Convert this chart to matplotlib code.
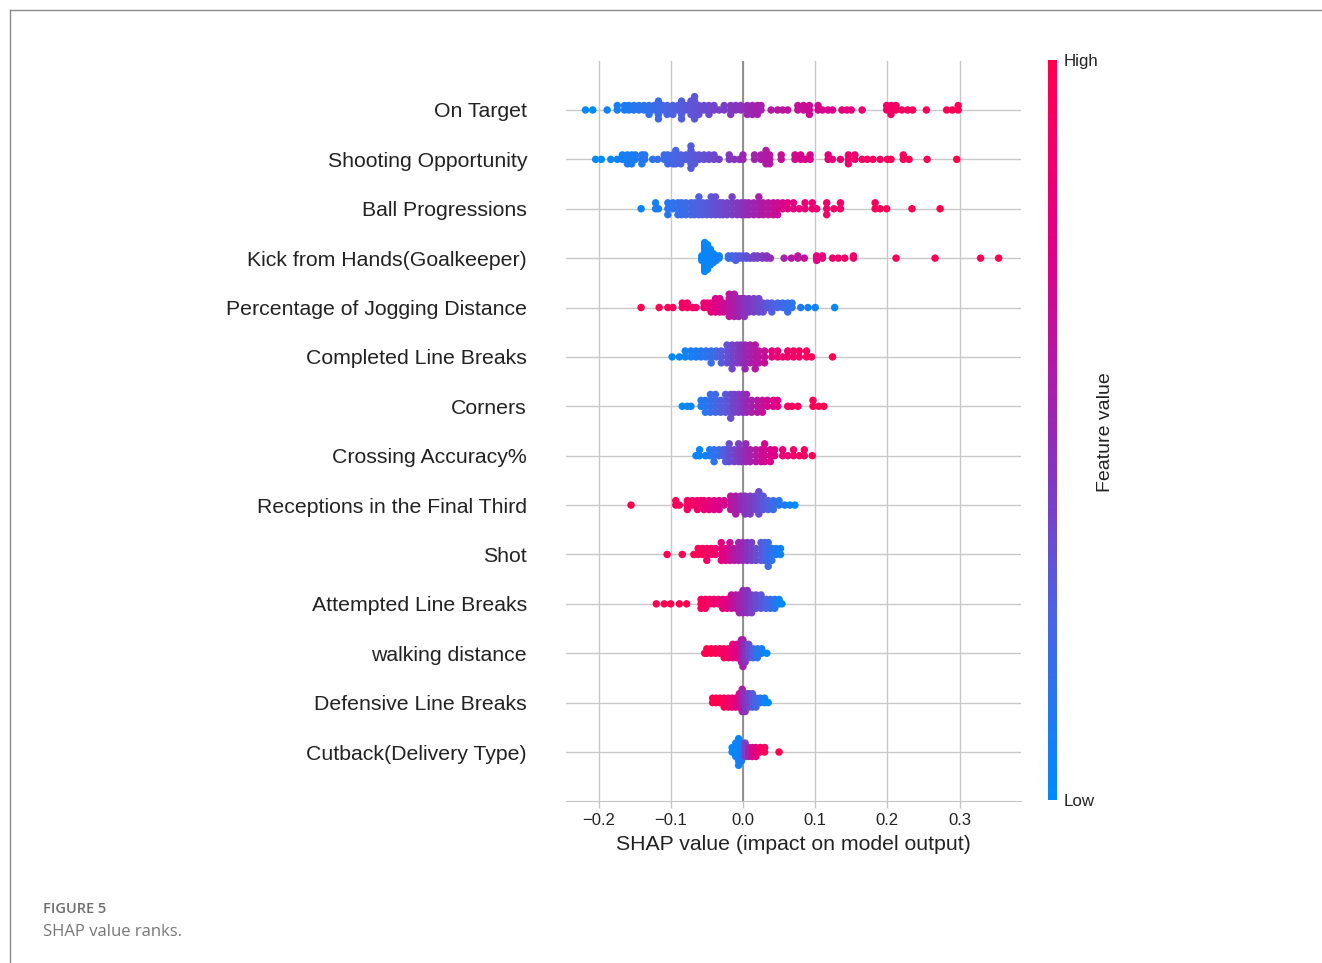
import numpy as np
import matplotlib.pyplot as plt
from matplotlib.colors import LinearSegmentedColormap, Normalize
from matplotlib.cm import ScalarMappable
from matplotlib.lines import Line2D

plt.rcParams['font.family'] = ['Liberation Sans', 'DejaVu Sans']

# feature names, top to bottom
features = ['On Target', 'Shooting Opportunity', 'Ball Progressions',
            'Kick from Hands(Goalkeeper)', 'Percentage of Jogging Distance',
            'Completed Line Breaks', 'Corners', 'Crossing Accuracy%',
            'Receptions in the Final Third', 'Shot', 'Attempted Line Breaks',
            'walking distance', 'Defensive Line Breaks', 'Cutback(Delivery Type)']

# points: (shap value x1000, number of dots, feature value 0-1)
on_target = [(-218,1,0.0),(-208,1,0.0),(-188,1,0.05),(-174,2,0.08),(-164,2,0.1),(-158,2,0.1),
             (-151,2,0.12),(-144,2,0.13),(-137,2,0.15),(-130,3,0.16),(-123,2,0.18),(-117,5,0.2),
             (-111,2,0.22),(-105,3,0.24),(-97,3,0.26),(-90,2,0.27),(-85,5,0.28),(-79,2,0.3),
             (-72,4,0.31),(-67,6,0.32),(-61,3,0.33),(-54,2,0.35),(-47,3,0.36),(-40,2,0.38),
             (-33,1,0.4),(-26,2,0.41),(-17,3,0.43),(-10,2,0.45),(-3,2,0.46),(6,3,0.5),(13,3,0.52),
             (20,3,0.54),(25,2,0.55),(39,1,0.6),(48,1,0.62),(55,1,0.62),(62,1,0.63),(76,2,0.65),
             (84,2,0.66),(92,3,0.68),(104,2,0.7),(110,1,0.72),(118,1,0.72),(124,1,0.74),
             (137,1,0.8),(144,1,0.8),(150,1,0.82),(165,1,0.85),(199,2,0.9),(205,3,0.9),
             (212,2,0.92),(220,1,0.92),(228,1,0.93),(235,1,0.93),(254,1,0.95),(282,1,0.97),
             (290,1,0.97),(298,2,0.98)]
shooting = [(-204,1,0.0),(-196,1,0.0),(-183,1,0.03),(-174,1,0.05),(-167,2,0.06),(-160,3,0.08),
            (-154,3,0.1),(-149,2,0.1),(-140,3,0.12),(-136,2,0.13),(-125,1,0.15),(-118,1,0.17),
            (-109,2,0.2),(-104,3,0.21),(-97,3,0.23),(-93,4,0.24),(-86,3,0.26),(-79,2,0.27),
            (-72,6,0.28),(-67,3,0.3),(-61,2,0.31),(-54,2,0.33),(-47,2,0.35),(-40,2,0.37),
            (-33,1,0.39),(-19,2,0.43),(-12,1,0.45),(-5,1,0.47),(0,2,0.5),(16,2,0.54),(25,2,0.56),
            (32,4,0.58),(37,3,0.6),(53,2,0.65),(72,2,0.7),(80,2,0.71),(86,1,0.72),(93,2,0.73),
            (118,2,0.8),(124,1,0.8),(135,1,0.83),(146,3,0.86),(155,2,0.88),(165,1,0.9),
            (172,1,0.9),(180,1,0.92),(190,1,0.93),(200,1,0.94),(205,1,0.95),(222,2,0.96),
            (230,1,0.97),(255,1,0.98),(296,1,1.0)]
ball_prog = [(-141,1,0.05),(-121,2,0.08),(-117,1,0.09),(-104,3,0.13),(-97,2,0.15),(-90,3,0.17),
             (-85,3,0.18),(-79,3,0.2),(-72,3,0.22),(-67,3,0.24),(-61,4,0.26),(-56,3,0.27),
             (-50,3,0.29),(-44,4,0.31),(-38,4,0.33),(-32,3,0.35),(-28,3,0.36),(-22,3,0.38),
             (-15,4,0.4),(-8,3,0.43),(-2,3,0.45),(3,3,0.47),(8,3,0.5),(15,3,0.53),(22,4,0.56),
             (28,3,0.59),(35,3,0.62),(42,3,0.65),(48,3,0.68),(55,2,0.72),(62,2,0.75),(70,2,0.78),
             (78,1,0.8),(86,2,0.82),(96,2,0.85),(102,1,0.86),(116,3,0.88),(126,1,0.9),
             (135,2,0.9),(183,2,0.95),(190,1,0.95),(199,1,0.96),(234,1,0.98),(273,1,1.0)]
kick = [(-57,3,0.02),(-53,14,0.02),(-49,12,0.03),(-45,8,0.03),(-41,5,0.04),(-37,3,0.05),
        (-33,2,0.06),(-20,2,0.2),(-15,2,0.22),(-10,3,0.25),(-5,2,0.28),(0,2,0.3),(5,2,0.32),
        (10,1,0.35),(15,2,0.38),(20,2,0.4),(27,2,0.42),(33,2,0.45),(38,1,0.48),(57,1,0.55),
        (67,1,0.58),(76,2,0.62),(85,1,0.65),(102,3,0.78),(110,2,0.8),(124,1,0.85),
        (132,1,0.86),(141,1,0.88),(153,2,0.9),(212,1,0.95),(266,1,0.97),(329,1,0.98),
        (354,1,1.0)]
jogging = [(-141,1,1.0),(-116,1,0.98),(-104,1,0.96),(-97,1,0.95),(-84,2,0.92),(-77,2,0.9),
           (-70,1,0.9),(-65,1,0.88),(-54,2,0.85),(-49,2,0.84),(-44,3,0.8),(-38,4,0.76),
           (-32,4,0.72),(-27,3,0.68),(-19,6,0.62),(-12,6,0.57),(-6,5,0.52),(-2,4,0.5),(2,5,0.46),
           (8,4,0.43),(15,4,0.4),(22,4,0.37),(28,3,0.34),(34,2,0.3),(40,3,0.27),(48,2,0.24),
           (55,2,0.21),(62,3,0.18),(68,2,0.15),(80,1,0.1),(90,1,0.07),(100,1,0.05),(127,1,0.0)]
completed = [(-98,1,0.0),(-88,1,0.03),(-80,2,0.05),(-72,2,0.08),(-65,2,0.1),(-58,2,0.12),
             (-51,2,0.15),(-44,3,0.18),(-37,2,0.22),(-30,3,0.28),(-22,4,0.33),(-15,5,0.38),
             (-8,4,0.42),(-3,4,0.45),(3,5,0.5),(10,4,0.55),(17,5,0.6),(22,3,0.62),(30,3,0.66),
             (40,2,0.8),(48,2,0.84),(55,1,0.86),(62,2,0.88),(70,2,0.9),(78,2,0.92),(88,2,0.94),
             (95,1,0.96),(124,1,1.0)]
corners = [(-84,1,0.0),(-77,1,0.02),(-72,1,0.04),(-58,2,0.1),(-52,3,0.13),(-45,4,0.18),
           (-38,4,0.22),(-31,3,0.27),(-24,4,0.3),(-17,5,0.35),(-12,4,0.38),(-6,4,0.42),
           (0,4,0.46),(5,4,0.5),(12,3,0.55),(20,3,0.6),(27,3,0.65),(34,2,0.7),(42,2,0.73),
           (48,2,0.76),(62,1,0.9),(68,1,0.92),(76,1,0.93),(97,2,0.96),(105,1,0.98),(112,1,1.0)]
crossing = [(-65,1,0.02),(-60,2,0.03),(-52,1,0.05),(-46,2,0.1),(-40,3,0.15),(-33,2,0.2),
            (-27,2,0.25),(-24,3,0.28),(-19,4,0.34),(-12,3,0.38),(-6,4,0.42),(-2,3,0.45),
            (4,4,0.5),(10,3,0.55),(18,3,0.6),(25,3,0.65),(30,4,0.7),(38,3,0.73),(44,2,0.76),
            (55,2,0.82),(62,1,0.85),(70,2,0.88),(78,1,0.9),(85,2,0.93),(96,1,0.98)]
receptions = [(-155,1,1.0),(-93,2,0.96),(-88,1,0.95),(-77,3,0.92),(-70,2,0.9),(-63,3,0.88),
              (-58,2,0.86),(-54,3,0.83),(-47,3,0.8),(-40,3,0.77),(-33,3,0.74),(-26,2,0.7),
              (-17,4,0.62),(-10,5,0.56),(-3,4,0.5),(3,5,0.45),(10,5,0.42),(17,4,0.38),
              (22,6,0.35),(28,4,0.3),(35,3,0.25),(42,3,0.2),(50,2,0.13),(58,1,0.1),(65,1,0.05),
              (72,1,0.0)]
shot = [(-105,1,1.0),(-84,1,1.0),(-68,1,0.98),(-62,2,0.96),(-56,2,0.95),(-50,3,0.92),(-44,2,0.9),
        (-38,2,0.88),(-30,4,0.8),(-24,3,0.75),(-18,4,0.66),(-12,3,0.6),(-6,4,0.55),(0,4,0.5),
        (6,4,0.45),(12,4,0.4),(18,3,0.35),(25,4,0.3),(30,4,0.25),(35,5,0.2),(40,3,0.15),
        (46,2,0.1),(52,2,0.05)]
attempted = [(-120,1,1.0),(-109,1,1.0),(-100,1,1.0),(-88,1,1.0),(-78,1,1.0),(-58,3,0.95),
             (-52,3,0.93),(-46,2,0.9),(-40,2,0.88),(-34,2,0.85),(-28,3,0.8),(-22,3,0.75),
             (-16,4,0.68),(-10,4,0.6),(-5,5,0.55),(0,6,0.5),(6,6,0.45),(12,5,0.4),(18,4,0.35),
             (25,4,0.3),(32,3,0.25),(38,3,0.2),(44,3,0.13),(50,2,0.06),(54,1,0.0)]
walking = [(-53,1,1.0),(-50,2,1.0),(-44,2,1.0),(-38,2,0.98),(-32,2,0.95),(-26,3,0.92),
           (-20,3,0.88),(-14,4,0.8),(-8,4,0.75),(-2,6,0.6),(0,7,0.55),(3,5,0.45),(8,4,0.35),
           (14,3,0.25),(20,3,0.15),(26,2,0.08),(33,1,0.0)]
defensive = [(-42,2,1.0),(-37,2,1.0),(-32,2,0.98),(-26,3,0.95),(-20,3,0.9),(-15,3,0.85),
             (-10,3,0.8),(-5,4,0.7),(-1,6,0.55),(3,5,0.45),(8,4,0.38),(13,4,0.3),(18,3,0.22),
             (24,2,0.15),(30,2,0.05),(35,1,0.0)]
cutback = [(-15,2,0.0),(-10,4,0.02),(-6,7,0.03),(-2,5,0.1),(3,4,0.4),(8,3,0.55),(13,3,0.7),
           (18,3,0.8),(24,2,0.9),(30,2,0.95),(50,1,1.0)]

rows = [on_target, shooting, ball_prog, kick, jogging, completed, corners, crossing,
        receptions, shot, attempted, walking, defensive, cutback]

xticks = [-0.2, -0.1, 0.0, 0.1, 0.2, 0.3]

# shap style red-blue colour map
red_blue = LinearSegmentedColormap.from_list('red_blue', [
    (0.0, (0/255, 138/255, 251/255)),
    (0.25, (75/255, 99/255, 227/255)),
    (0.5, (150/255, 40/255, 180/255)),
    (0.75, (224/255, 0/255, 134/255)),
    (1.0, (255/255, 0/255, 81/255))])


def swarm_offsets(x, row_height=0.4, nbins=100):
    # same stacking idea as shap's beeswarm
    quant = np.round(nbins * (x - x.min()) / (x.max() - x.min() + 1e-8))
    inds = np.argsort(quant, kind='stable')
    ys = np.zeros(len(x))
    layer = 0
    last_bin = -1
    for ind in inds:
        if quant[ind] != last_bin:
            layer = 0
        ys[ind] = np.ceil(layer / 2) * ((layer % 2) * 2 - 1)
        layer += 1
        last_bin = quant[ind]
    ys *= 0.9 * (row_height / np.max(ys + 1))
    return ys


W, H = 1322, 963
fig = plt.figure(figsize=(W / 100, H / 100), dpi=100)
ax = fig.add_axes([566 / W, 1 - 801.4 / H, (1021 - 566) / W, (801.4 - 60.6) / H])

n = len(features)
for i, pts in enumerate(rows):
    pos = n - 1 - i
    x = np.repeat([p[0] for p in pts], [p[1] for p in pts]) / 1000.0
    v = np.repeat([p[2] for p in pts], [p[1] for p in pts])
    ys = swarm_offsets(x)
    ax.scatter(x, pos + ys, c=v, cmap=red_blue, vmin=0, vmax=1, s=29,
               linewidths=0, zorder=3)

ax.axvline(0, color='#8a8a8a', lw=1.3, zorder=2)
ax.set_axisbelow(True)
ax.grid(True, color='#c8c8c8', lw=1)

ax.set_xlim(-0.245, 0.385)
ax.set_ylim(-1, n)
ax.set_yticks(range(n))
ax.set_yticklabels(features[::-1], fontsize=15.3, color='#222222')
ax.set_xticks(xticks)
ax.set_xticklabels([('\u2212%.1f' % -t) if t < 0 else '%.1f' % t for t in xticks],
                   fontsize=12, color='#222222')
ax.tick_params(axis='y', length=0, pad=28)
ax.tick_params(axis='x', length=5, color='#c4c4c4', width=1)
ax.set_xlabel('SHAP value (impact on model output)', fontsize=15.3, color='#222222',
              labelpad=5)
for s in ['top', 'right', 'left']:
    ax.spines[s].set_visible(False)
ax.spines['bottom'].set_color('#c4c4c4')

# colour bar
cax = fig.add_axes([1048 / W, 1 - 800 / H, 9 / W, 740 / H])
cb = fig.colorbar(ScalarMappable(norm=Normalize(0, 1), cmap=red_blue), cax=cax)
cb.set_ticks([0, 1])
cb.set_ticklabels(['Low', 'High'])
cb.ax.tick_params(length=0, labelsize=12.2, pad=5, labelcolor='#222222')
cb.outline.set_visible(False)
fig.text(1105 / W, 1 - 432 / H, 'Feature value', rotation=90, ha='center', va='center',
         fontsize=14, color='#222222')

# page frame and caption
fig.add_artist(Line2D([10 / W, 1], [1 - 10 / H] * 2, color='#8c8c8c', lw=1,
                      transform=fig.transFigure))
fig.add_artist(Line2D([10 / W] * 2, [0, 1 - 10 / H], color='#8c8c8c', lw=1,
                      transform=fig.transFigure))
fig.text(43 / W, 1 - 909 / H, 'FIGURE 5', fontsize=10.5, color='#6e6e6e',
         fontweight='semibold', family=['Open Sans', 'DejaVu Sans'], va='center')
fig.text(43 / W, 1 - 932 / H, 'SHAP value ranks.', fontsize=12, color='#777777',
         family=['Open Sans', 'DejaVu Sans'], va='center')

fig.savefig('out.png', dpi=100)
